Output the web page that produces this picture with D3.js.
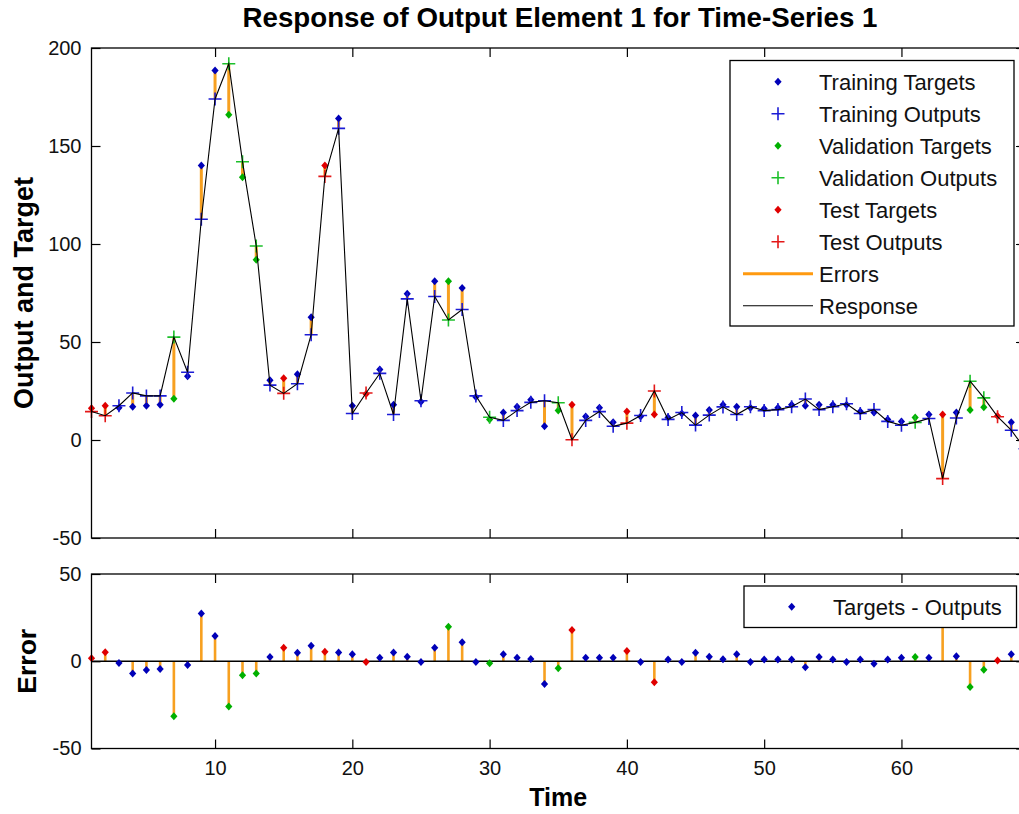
<!DOCTYPE html>
<html><head><meta charset="utf-8">
<script src="https://cdn.jsdelivr.net/npm/d3@7"></script>
<style>body{margin:0;background:#fff} svg{display:block} text{font-family:"Liberation Sans",Arial,Helvetica,sans-serif}</style>
</head><body><svg id="c" width="1019" height="814"></svg>
<script>
// ---------- data ----------
const time = [1,2,3,4,5,6,7,8,9,10,11,12,13,14,15,16,17,18,19,20,21,22,23,24,25,26,27,28,29,30,
  31,32,33,34,35,36,37,38,39,40,41,42,43,44,45,46,47,48,49,50,51,52,53,54,55,56,57,58,59,60,
  61,62,63,64,65,66,67,68,69];
const targets = [16.2,17.5,16.5,17,17.5,18,21,32.5,140,188.5,166,134,92,30.5,31.5,33.6,62.6,140,164,17.5,
  23.5,36,18,74.6,19.5,81,81,77.5,22,10.5,14,17,20.5,7,15,18,12,16.5,9,14.5,
  12,13,11.5,13.5,12.5,15.3,18,17,16.5,16,16.5,18,17.5,18,18,18,14.5,14,10.5,9.5,
  11.5,13,13,14,15.3,16.7,12.3,9,-2];
const outputs = [14.5,12.4,17.5,24,22.5,22.5,52.5,34.6,112.6,174,192,142,99,28,23.8,28.7,53.7,134.5,159,13.5,
  24,34,13,72,20,73.2,61.2,66.6,22.5,11.6,10,15,19.2,20,19,0.1,10,14.5,7,8.6,
  12.5,25,10.5,14,7.6,12.7,16.9,13,17,15,15.5,17,20.9,15.5,17,18.5,13.5,15.5,9.5,7.5,
  9,11,-19.7,11.2,30,21.5,11.9,5,-4.5];
const testSteps = [1,2,15,18,21,36,40,42,63,67];
const validationSteps = [7,11,12,13,27,30,35,61,65,66];
const xTicks = [10,20,30,40,50,60];
const yTicksTop = [-50,0,50,100,150,200];
const yTicksBottom = [-50,0,50];
const legendLabels = ["Training Targets","Training Outputs","Validation Targets","Validation Outputs","Test Targets","Test Outputs","Errors","Response"];
const errLegendLabel = "Targets - Outputs";

// ---------- styles ----------
const COL = {
  train: {t:"#0000b8", o:"#1c1cd6"},
  val:   {t:"#00b000", o:"#1cc02a"},
  test:  {t:"#e00000", o:"#e41818"}
};
const ORANGE = "#f7a020";
const catOf = t => testSteps.includes(t) ? "test" : (validationSteps.includes(t) ? "val" : "train");
const pts = time.map((t,i)=>({t, tg:targets[i], out:outputs[i], err:targets[i]-outputs[i], c:catOf(t)}));

const svg = d3.select("#c");
svg.append("rect").attr("width",1019).attr("height",814).attr("fill","#fff");

const L=91.5, R=1025, T1=48, B1=538, T2=574, B2=748.5;
const x = d3.scaleLinear().domain([1,69]).range([L,R]);
const y1 = d3.scaleLinear().domain([-50,200]).range([B1,T1]);
const y2 = d3.scaleLinear().domain([-50,50]).range([B2,T2]);
const fmt = d => String(d);

const defs = svg.append("defs");
defs.append("clipPath").attr("id","cp1").append("rect").attr("x",L).attr("y",T1).attr("width",R-L).attr("height",B1-T1);
defs.append("clipPath").attr("id","cp2").append("rect").attr("x",L).attr("y",T2).attr("width",R-L).attr("height",B2-T2);

const diamond = "M0,-4L3.6,0L0,4L-3.6,0Z";
const plus = "M-6.5,0H6.5M0,-6.5V6.5";

function axes(yScale, top, bottom, yTicks, showX){
  const g = svg.append("g");
  const style = a => a.attr("font-size",20).attr("font-family","'Liberation Sans',Arial,sans-serif")
     .call(s=>s.select(".domain").remove())
     .call(s=>s.selectAll("line").attr("stroke","#000").attr("stroke-width",1.2))
     .call(s=>s.selectAll("text").attr("fill","#111"));
  g.append("g").attr("transform",`translate(${L},0)`)
    .call(d3.axisLeft(yScale).tickValues(yTicks).tickSize(-9).tickPadding(10).tickFormat(fmt)).call(style);
  g.append("g").attr("transform",`translate(${R},0)`)
    .call(d3.axisRight(yScale).tickValues(yTicks).tickSize(-9).tickFormat("")).call(style);
  g.append("g").attr("transform",`translate(0,${top})`)
    .call(d3.axisTop(x).tickValues(xTicks).tickSize(-9).tickFormat("")).call(style);
  g.append("g").attr("transform",`translate(0,${bottom})`)
    .call(d3.axisBottom(x).tickValues(xTicks).tickSize(-9).tickPadding(12).tickFormat(showX? fmt:"")).call(style);
  g.append("rect").attr("x",L).attr("y",top).attr("width",R-L).attr("height",bottom-top)
    .attr("fill","none").attr("stroke","#000").attr("stroke-width",1.3);
}

// ---------- top plot ----------
const p1 = svg.append("g").attr("clip-path","url(#cp1)");
const m1 = svg.append("g");
p1.selectAll("line.err").data(pts).join("line")
  .attr("x1",d=>x(d.t)).attr("x2",d=>x(d.t)).attr("y1",d=>y1(d.tg)).attr("y2",d=>y1(d.out))
  .attr("stroke",ORANGE).attr("stroke-width",3);
m1.selectAll("path.tg").data(pts).join("path")
  .attr("d",diamond).attr("transform",d=>`translate(${x(d.t)},${y1(d.tg)})`)
  .attr("fill",d=>COL[d.c].t);
m1.selectAll("path.out").data(pts).join("path")
  .attr("d",plus).attr("transform",d=>`translate(${x(d.t)},${y1(d.out)})`)
  .attr("stroke",d=>COL[d.c].o).attr("stroke-width",1.6).attr("fill","none");
svg.append("g").attr("clip-path","url(#cp1)").append("path").datum(pts)
  .attr("d",d3.line().x(d=>x(d.t)).y(d=>y1(d.out)))
  .attr("fill","none").attr("stroke","#000").attr("stroke-width",1.1);
axes(y1, T1, B1, yTicksTop, false);

// ---------- bottom plot ----------
const p2 = svg.append("g").attr("clip-path","url(#cp2)");
p2.selectAll("line.err").data(pts).join("line")
  .attr("x1",d=>x(d.t)).attr("x2",d=>x(d.t)).attr("y1",y2(0)).attr("y2",d=>y2(d.err))
  .attr("stroke",ORANGE).attr("stroke-width",2.6);
p2.append("line").attr("x1",L).attr("x2",R).attr("y1",y2(0)).attr("y2",y2(0))
  .attr("stroke","#000").attr("stroke-width",1.6);
svg.append("g").selectAll("path.e").data(pts).join("path")
  .attr("d",diamond).attr("transform",d=>`translate(${x(d.t)},${y2(d.err)})`)
  .attr("fill",d=>COL[d.c].t);
axes(y2, T2, B2, yTicksBottom, true);

// ---------- legends ----------
const lg = svg.append("g");
lg.append("rect").attr("x",730).attr("y",60.5).attr("width",284).attr("height",265.5)
  .attr("fill","#fff").attr("stroke","#000").attr("stroke-width",1.3);
const rowY = i => 81.7 + i*32;
const keys = [["train","t"],["train","o"],["val","t"],["val","o"],["test","t"],["test","o"]];
keys.forEach(([c,k],i)=>{
  if(k==="t") lg.append("path").attr("d",diamond).attr("transform",`translate(778,${rowY(i)})`).attr("fill",COL[c].t);
  else lg.append("path").attr("d",plus).attr("transform",`translate(778,${rowY(i)})`).attr("stroke",COL[c].o).attr("stroke-width",1.6);
});
lg.append("line").attr("x1",743).attr("x2",813).attr("y1",rowY(6)).attr("y2",rowY(6)).attr("stroke","#ff9a10").attr("stroke-width",3);
lg.append("line").attr("x1",743).attr("x2",813).attr("y1",rowY(7)).attr("y2",rowY(7)).attr("stroke","#000").attr("stroke-width",1.1);
legendLabels.forEach((s,i)=>{
  lg.append("text").attr("x",819).attr("y",rowY(i)+8).attr("font-size",22).attr("fill","#111").text(s);
});

const lg2 = svg.append("g");
lg2.append("rect").attr("x",744).attr("y",586).attr("width",272.5).attr("height",41.5)
  .attr("fill","#fff").attr("stroke","#000").attr("stroke-width",1.3);
lg2.append("path").attr("d",diamond).attr("transform","translate(791.7,606.7)").attr("fill",COL.train.t);
lg2.append("text").attr("x",833).attr("y",614.7).attr("font-size",22).attr("fill","#111").text(errLegendLabel);

// ---------- titles ----------
svg.append("text").attr("x",560).attr("y",27).attr("text-anchor","middle").attr("font-size",27.7).attr("font-weight","bold")
  .text("Response of Output Element 1 for Time-Series 1");
svg.append("text").attr("transform",`translate(33,${(T1+B1)/2}) rotate(-90)`).attr("text-anchor","middle")
  .attr("font-size",27).attr("font-weight","bold").text("Output and Target");
svg.append("text").attr("transform",`translate(36,${(T2+B2)/2}) rotate(-90)`).attr("text-anchor","middle")
  .attr("font-size",26.5).attr("font-weight","bold").text("Error");
svg.append("text").attr("x",(L+R)/2).attr("y",806).attr("text-anchor","middle").attr("font-size",25).attr("font-weight","bold").text("Time");
</script></body></html>
